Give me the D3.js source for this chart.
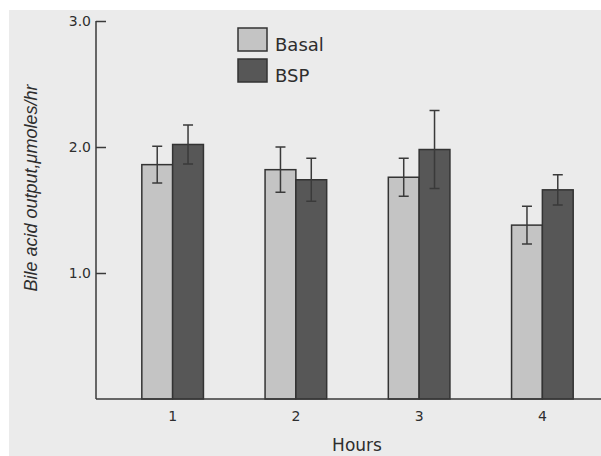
<!DOCTYPE html>
<html>
<head>
<meta charset="utf-8">
<script src="https://cdn.jsdelivr.net/npm/d3@7"></script>
<style>
  body { margin: 0; background: #fff; }
  svg { display: block; }
  text { fill: #2e2e2e; }
</style>
</head>
<body>
<div id="chart"></div>
<script>
// values (mean and error bar half-width)
const hours = ["1", "2", "3", "4"];
const series = ["Basal", "BSP"];
const basal = [1.86, 1.82, 1.76, 1.38];
const basalErr = [0.145, 0.18, 0.15, 0.15];
const bsp = [2.02, 1.74, 1.98, 1.66];
const bspErr = [0.155, 0.17, 0.31, 0.12];
const yTicks = [1.0, 2.0, 3.0];

const W = 601, H = 456;
const colors = { Basal: "#c4c4c4", BSP: "#575757" };

const svg = d3.select("#chart").append("svg")
    .attr("width", W)
    .attr("height", H);

// scanned paper background
svg.append("rect")
    .attr("x", 9).attr("y", 10)
    .attr("width", W - 9).attr("height", H - 10)
    .attr("fill", "#ebebeb");

const y = d3.scaleLinear().domain([0, 3]).range([399, 21]);
const x0 = d3.scaleBand().domain(hours).range([111, 604]).paddingInner(0.5).paddingOuter(0.25);
const x1 = d3.scaleBand().domain(series).range([0, x0.bandwidth()]);

const rows = hours.map((h, i) => ({
    hour: h,
    vals: [
        { key: "Basal", v: basal[i], e: basalErr[i] },
        { key: "BSP", v: bsp[i], e: bspErr[i] }
    ]
}));

const groups = svg.selectAll("g.grp")
    .data(rows)
    .join("g")
    .attr("class", "grp")
    .attr("transform", d => `translate(${x0(d.hour)},0)`);

groups.selectAll("rect")
    .data(d => d.vals)
    .join("rect")
    .attr("x", d => x1(d.key))
    .attr("y", d => y(d.v))
    .attr("width", x1.bandwidth())
    .attr("height", d => y(0) - y(d.v))
    .attr("fill", d => colors[d.key])
    .attr("stroke", "#333")
    .attr("stroke-width", 1.5);

// error bars
const cap = 5;
groups.selectAll("path.err")
    .data(d => d.vals)
    .join("path")
    .attr("class", "err")
    .attr("d", d => {
        const cx = x1(d.key) + x1.bandwidth() / 2;
        const t = y(d.v + d.e), b = y(d.v - d.e);
        return `M${cx - cap},${t}H${cx + cap}M${cx},${t}V${b}M${cx - cap},${b}H${cx + cap}`;
    })
    .attr("fill", "none")
    .attr("stroke", "#3a3a3a")
    .attr("stroke-width", 1.5);

// y axis, ticks pointing inward
const yAxis = svg.append("g")
    .attr("transform", "translate(96,0)")
    .call(d3.axisRight(y).tickValues(yTicks).tickSize(10).tickFormat(""));
yAxis.select(".domain").remove();
yAxis.selectAll("line").attr("stroke", "#3a3a3a").attr("stroke-width", 1.5);
svg.append("line")
    .attr("x1", 96).attr("x2", 96)
    .attr("y1", y(3)).attr("y2", y(0))
    .attr("stroke", "#3a3a3a").attr("stroke-width", 1.5);

svg.selectAll("text.ytick")
    .data(yTicks)
    .join("text")
    .attr("class", "ytick")
    .attr("x", 91)
    .attr("y", d => y(d) + 5)
    .attr("text-anchor", "end")
    .attr("font-family", "DejaVu Sans")
    .attr("font-size", 14)
    .text(d => d.toFixed(1));

// x axis baseline
svg.append("line")
    .attr("x1", 96).attr("x2", W)
    .attr("y1", y(0)).attr("y2", y(0))
    .attr("stroke", "#3a3a3a").attr("stroke-width", 1.5);

svg.selectAll("text.xtick")
    .data(hours)
    .join("text")
    .attr("class", "xtick")
    .attr("x", d => x0(d) + x0.bandwidth() / 2)
    .attr("y", 421)
    .attr("text-anchor", "middle")
    .attr("font-family", "DejaVu Sans")
    .attr("font-size", 14)
    .text(d => d);

svg.append("text")
    .attr("x", 357).attr("y", 451)
    .attr("text-anchor", "middle")
    .attr("font-family", "DejaVu Sans")
    .attr("font-size", 17)
    .text("Hours");

svg.append("text")
    .attr("transform", "translate(37,188) rotate(-90)")
    .attr("text-anchor", "middle")
    .attr("font-family", "Liberation Sans")
    .attr("font-style", "italic")
    .attr("font-size", 18)
    .text("Bile acid output,\u03bcmoles/hr");

// legend
const legend = svg.selectAll("g.leg")
    .data(series)
    .join("g")
    .attr("class", "leg")
    .attr("transform", (d, i) => `translate(238,${28 + i * 31})`);
legend.append("rect")
    .attr("width", 29).attr("height", 23)
    .attr("fill", d => colors[d])
    .attr("stroke", "#333").attr("stroke-width", 1.5);
legend.append("text")
    .attr("x", 37).attr("y", 23)
    .attr("font-family", "DejaVu Sans")
    .attr("font-size", 18)
    .text(d => d);
</script>
</body>
</html>
